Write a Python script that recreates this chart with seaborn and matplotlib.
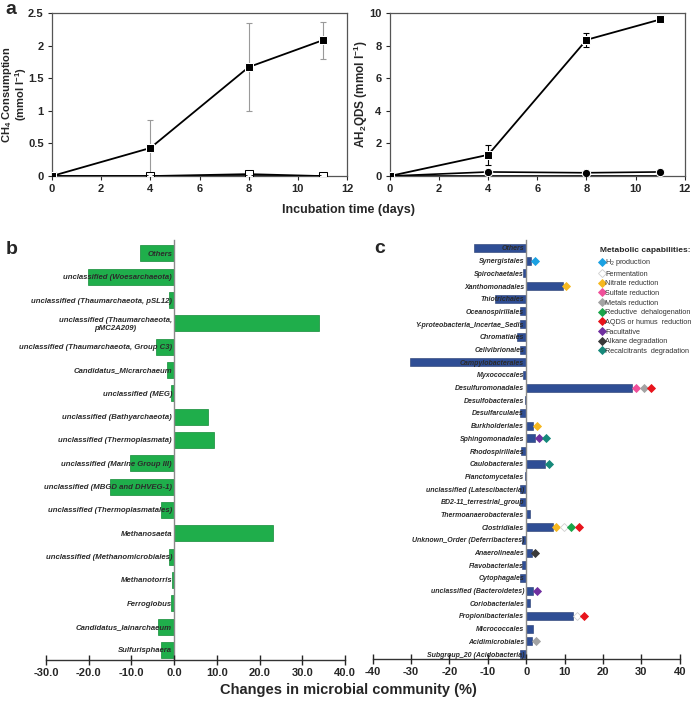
import seaborn as sns
import matplotlib.pyplot as plt
import pandas as pd
from matplotlib.lines import Line2D

sns.set_style("white")
plt.rcParams['font.family'] = ['Liberation Sans', 'DejaVu Sans']
plt.rcParams['mathtext.default'] = 'regular'
plt.rcParams['axes.unicode_minus'] = False

# ---- panel a data ----
days = [0, 4, 8, 11]
ch4_aqds = [0, 0.43, 1.67, 2.08]
ch4_aqds_err = [0, 0.43, 0.68, 0.28]
ch4_ctrl1 = [0, 0, 0.03, 0]
ch4_ctrl2 = [0, 0, 0, 0]
ah2_aqds = [0, 1.3, 8.35, 9.6]
ah2_aqds_err = [0, 0.62, 0.42, 0.1]
ah2_ctrl1 = [0, 0.25, 0.2, 0.25]
ah2_ctrl2 = [0, 0, 0, 0]

# ---- panel b data (archaea) ----
arch_taxa = ["Others", "unclassified (Woesarchaeota)", "unclassified (Thaumarchaeota, pSL12)",
             "unclassified (Thaumarchaeota,\npMC2A209)", "unclassified (Thaumarchaeota, Group C3)",
             "Candidatus_Micrarchaeum", "unclassified (MEG)", "unclassified (Bathyarchaeota)",
             "unclassified (Thermoplasmata)", "unclassified (Marine Group III)",
             "unclassified (MBGD and DHVEG-1)", "unclassified (Thermoplasmatales)", "Methanosaeta",
             "unclassified (Methanomicrobiales)", "Methanotorris", "Ferroglobus",
             "Candidatus_Iainarchaeum", "Sulfurisphaera"]
arch_change = [-8.1, -20.2, -1.1, 33.8, -4.3, -1.6, -0.8, 8.0, 9.4, -10.3, -15.0, -3.0, 23.1,
               -1.1, -0.5, -0.8, -3.8, -3.1]

# ---- panel c data (bacteria) ----
bact_taxa = ["Others", "Synergistales", "Spirochaetales", "Xanthomonadales", "Thiotrichales",
             "Oceanospirillales", "Y-proteobacteria_Incertae_Sedis", "Chromatiales", "Cellvibrionales",
             "Campylobacterales", "Myxococcales", "Desulfuromonadales", "Desulfobacterales",
             "Desulfarculales", "Burkholderiales", "Sphingomonadales", "Rhodospirillales",
             "Caulobacterales", "Planctomycetales", "unclassified (Latescibacteria)",
             "BD2-11_terrestrial_group", "Thermoanaerobacterales", "Clostridiales",
             "Unknown_Order (Deferribacteres)", "Anaerolineales", "Flavobacteriales", "Cytophagales",
             "unclassified (Bacteroidetes)", "Coriobacteriales", "Propionibacteriales",
             "Micrococcales", "Acidimicrobiales", "Subgroup_20 (Acidobacteria)"]
bact_change = [-13.6, 1.2, -0.8, 9.5, -8.1, -1.6, -1.6, -2.3, -1.5, -30.4, -0.9, 27.7, -0.3,
               -1.5, 1.7, 2.3, -1.3, 5.0, -0.3, -1.6, -1.6, 1.0, 6.9, -1.2, 1.4, -1.0, -1.5,
               1.7, 1.1, 12.2, 1.7, 1.6, -1.5]

capabilities = ["H$_2$ production", "Fermentation", "Nitrate reduction", "Sulfate reduction",
                "Metals reduction", "Reductive  dehalogenation", "AQDS or humus  reduction",
                "Facultative", "Alkane degradation", "Recalcitrants  degradation"]
cap_colors = ["#1ba1e2", "white", "#f6b820", "#f0509a", "#a3a3a3", "#1aa64a", "#e8141c",
              "#7030a0", "#3a3a3a", "#16897a"]
taxon_caps = {
    "Synergistales": [0],
    "Xanthomonadales": [2],
    "Desulfuromonadales": [3, 4, 6],
    "Burkholderiales": [2],
    "Sphingomonadales": [7, 9],
    "Caulobacterales": [9],
    "Clostridiales": [2, 1, 5, 6],
    "Anaerolineales": [8],
    "unclassified (Bacteroidetes)": [7],
    "Propionibacteriales": [1, 6],
    "Acidimicrobiales": [4],
}

fig = plt.figure(figsize=(6.96, 7.03), dpi=100)
txt = "#262626"

# ---------------- panel a ----------------
ax1 = fig.add_axes([0.0747, 0.7496, 0.424, 0.232])
ax2 = fig.add_axes([0.560, 0.7496, 0.424, 0.232])

ax1.errorbar(days, ch4_aqds, yerr=ch4_aqds_err, fmt="none", ecolor="#9a9a9a", elinewidth=0.8,
             capsize=2.5, capthick=0.8, zorder=1)
sns.lineplot(x=days, y=ch4_ctrl1, ax=ax1, color="black", marker="s", markersize=6,
             markerfacecolor="white", markeredgecolor="black", lw=1.2, zorder=3)
sns.lineplot(x=days, y=ch4_ctrl2, ax=ax1, color="black", marker="x", markersize=5,
             markeredgewidth=1, lw=1.2, zorder=4)
sns.lineplot(x=days, y=ch4_aqds, ax=ax1, color="black", marker="s", markersize=6, lw=1.3, zorder=5)
ax1.set_ylim(0, 2.5)
ax1.set_yticks([0, 0.5, 1, 1.5, 2, 2.5])
ax1.set_yticklabels(["0", "0.5", "1", "1.5", "2", "2.5"])
ax1.set_ylabel("CH$_4$ Consumption\n(mmol l$^{-1}$)", fontsize=8, fontweight="bold",
               linespacing=0.95)
ax1.yaxis.set_label_coords(-0.078, 0.5)

ax2.errorbar(days, ah2_aqds, yerr=ah2_aqds_err, fmt="none", ecolor="black", elinewidth=0.8,
             capsize=2.5, capthick=0.8, zorder=1)
sns.lineplot(x=days, y=ah2_ctrl2, ax=ax2, color="black", marker="x", markersize=5,
             markeredgewidth=1, lw=1.2, zorder=3)
sns.lineplot(x=days, y=ah2_ctrl1, ax=ax2, color="black", marker="o", markersize=6, lw=1.2, zorder=4)
sns.lineplot(x=days, y=ah2_aqds, ax=ax2, color="black", marker="s", markersize=6, lw=1.3, zorder=5)
ax2.set_ylim(0, 10)
ax2.set_yticks([0, 2, 4, 6, 8, 10])
ax2.set_ylabel("AH$_2$QDS (mmol l$^{-1}$)", fontsize=8.5, fontweight="bold")
ax2.yaxis.set_label_coords(-0.068, 0.5)

for ax in (ax1, ax2):
    ax.set_xlim(0, 12)
    ax.set_xticks(range(0, 13, 2))
    for s in ax.spines.values():
        s.set_color("#555555")
        s.set_linewidth(0.9)
    ax.tick_params(axis="both", direction="out", length=3, width=0.8, labelsize=8, pad=3,
                   colors=txt, bottom=True, left=True)
    for lab in ax.get_xticklabels() + ax.get_yticklabels():
        lab.set_fontweight("bold")
    ax.grid(False)

fig.text(0.5, 0.701, "Incubation time (days)", ha="center", va="center", fontsize=9,
         fontweight="bold", color=txt)
fig.text(0.008, 0.987, "a", fontsize=14, fontweight="bold", va="center", ha="left")

# ---------------- panel b ----------------
df_b = pd.DataFrame({"taxon": arch_taxa, "change": arch_change})
axb = fig.add_axes([0.066, 0.0612, 0.43, 0.597])
sns.barplot(data=df_b, x="change", y="taxon", orient="h", ax=axb, color="#1fae4b",
            edgecolor="#128a36", linewidth=0.5, width=0.69, saturation=1)
axb.set_xlim(-30, 40)
axb.set_ylim(len(arch_taxa) - 1 + 0.43, -0.56)
axb.set_xticks(range(-30, 41, 10))
axb.set_xticklabels([f"{v:.1f}" for v in range(-30, 41, 10)])

# ---------------- panel c ----------------
df_c = pd.DataFrame({"taxon": bact_taxa, "change": bact_change})
axc = fig.add_axes([0.5355, 0.0626, 0.441, 0.596])
sns.barplot(data=df_c, x="change", y="taxon", orient="h", ax=axc, color="#2f4e95",
            edgecolor="#23396e", linewidth=0.4, width=0.63, saturation=1)
axc.set_xlim(-40, 40)
axc.set_ylim(len(bact_taxa) - 1 + 0.39, -0.63)
axc.set_xticks(range(-40, 41, 10))

# capability diamonds placed after the bar end
for i, (name, val) in enumerate(zip(bact_taxa, bact_change)):
    for k, c in enumerate(taxon_caps.get(name, [])):
        xpos = max(val, 0) + 1.0 + 1.95 * k
        axc.plot(xpos, i, marker="D", markersize=4.2, color=cap_colors[c],
                 markeredgecolor="#cfcfcf" if cap_colors[c] == "white" else cap_colors[c],
                 markeredgewidth=0.6, zorder=5)

handles = [Line2D([], [], marker="D", linestyle="none", markersize=3.6, markerfacecolor=col,
                  markeredgecolor="#cfcfcf" if col == "white" else col, markeredgewidth=0.6)
           for col in cap_colors]
leg = fig.legend(handles, capabilities, loc="upper left", bbox_to_anchor=(0.862, 0.648),
                 frameon=False, fontsize=5.2, title="Metabolic capabilities:",
                 title_fontproperties={"weight": "bold", "size": 6.0}, handlelength=0.5,
                 handletextpad=0.2, labelspacing=0.36, borderaxespad=0, borderpad=0,
                 alignment="left")
for t in leg.get_texts():
    t.set_color("#333333")

for ax, fs in ((axb, 5.6), (axc, 5.0)):
    ax.set_axisbelow(False)
    ax.spines["left"].set_position(("data", 0))
    ax.spines["left"].set_color("#8a8a8a")
    ax.spines["left"].set_linewidth(1.0)
    ax.spines["top"].set_visible(False)
    ax.spines["right"].set_visible(False)
    ax.spines["bottom"].set_color("#333333")
    ax.spines["bottom"].set_linewidth(1.0)
    ax.set_xlabel("")
    ax.set_ylabel("")
    ax.tick_params(axis="y", length=0, pad=1.5, labelsize=fs, colors="#2b2b2b")
    ax.tick_params(axis="x", direction="inout", length=7, width=1.0, labelsize=8, pad=2,
                   colors=txt, bottom=True)
    for lab in ax.get_yticklabels():
        lab.set_fontstyle("italic")
        lab.set_fontweight("bold")
    for lab in ax.get_xticklabels():
        lab.set_fontweight("bold")
    ax.grid(False)

for lab in axb.get_yticklabels():
    if "\n" in lab.get_text():
        lab.set_multialignment("center")

fig.text(0.5, 0.018, "Changes in microbial community (%)", ha="center", va="center",
         fontsize=10.5, fontweight="bold", color=txt)
fig.text(0.008, 0.645, "b", fontsize=14, fontweight="bold", va="center", ha="left")
fig.text(0.537, 0.647, "c", fontsize=14, fontweight="bold", va="center", ha="left")

fig.savefig("out.png", dpi=100)
